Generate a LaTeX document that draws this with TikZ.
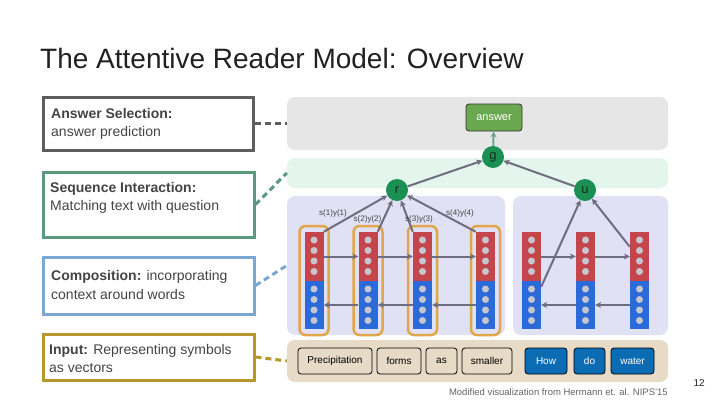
\documentclass[tikz,border=0pt]{standalone}
\usepackage{fontspec}
\setmainfont{Liberation Sans}
\usetikzlibrary{arrows.meta,calc}
\definecolor{txtgray}{HTML}{444444}
\definecolor{cgray}{HTML}{5E5E5E}
\definecolor{cgreen}{HTML}{5B9A7E}
\definecolor{cblue}{HTML}{7DA7D3}
\definecolor{cgold}{HTML}{B8962E}
\definecolor{pgray}{HTML}{E6E6E6}
\definecolor{pgreen}{HTML}{E3F5EC}
\definecolor{pblue}{HTML}{E1E1F5}
\definecolor{ptan}{HTML}{E7DAC6}
\definecolor{colred}{HTML}{C4464C}
\definecolor{colblue}{HTML}{2B6AD8}
\definecolor{dotgray}{HTML}{C6C6CE}
\definecolor{corange}{HTML}{E2A64A}
\definecolor{arrgray}{HTML}{6E6E7E}
\definecolor{nodegreen}{HTML}{1A9052}
\definecolor{nodetext}{HTML}{14301E}
\definecolor{ansgreen}{HTML}{6AA84F}
\definecolor{wordblue}{HTML}{0B6CB4}
\begin{document}
\begin{tikzpicture}[x=1pt,y=-1pt,
  lbox/.style={draw, line width=3pt, inner sep=0pt},
  panel/.style={rounded corners=8pt, inner sep=0pt},
  dashconn/.style={line width=3pt, dash pattern=on 6pt off 4pt},
  colr/.style={fill=colred, minimum width=19pt, minimum height=49pt, inner sep=0pt},
  colb/.style={fill=colblue, minimum width=19pt, minimum height=48pt, inner sep=0pt},
  obox/.style={draw=corange, line width=2.5pt, rounded corners=6pt, minimum width=29pt, minimum height=109pt, inner sep=0pt},
  dotn/.style={circle, fill=dotgray, minimum size=7pt, inner sep=0pt},
  harr/.style={draw=arrgray, line width=2pt, -{Stealth[length=6pt,width=6pt]}},
  circ/.style={circle, fill=nodegreen, minimum size=22pt, inner sep=0pt, text=nodetext, font=\fontsize{13}{13}\selectfont},
  word/.style={draw=black, line width=0.8pt, rounded corners=3pt, minimum height=26pt, inner sep=0pt, font=\fontsize{10}{10}\selectfont},
  ltxt/.style={anchor=base west, inner sep=0pt, text=txtgray, font=\fontsize{14}{14}\selectfont},
  slab/.style={inner sep=0pt, text=txtgray, font=\fontsize{8}{8}\selectfont}
]
\useasboundingbox (0,0) rectangle (720,405);
\fill[white] (0,0) rectangle (720,405);

% title
\node[anchor=base west, inner sep=0pt, text=black!87, font=\fontsize{28}{28}\selectfont] (title) at (40,68) {The Attentive Reader Model: Overview};

% left boxes
\node[lbox, draw=cgray, minimum width=210pt, minimum height=53pt] (b1) at (148,123.5) {};
\node[lbox, draw=cgreen, minimum width=211pt, minimum height=65pt] (b2) at (148.5,204.5) {};
\node[lbox, draw=cblue, minimum width=211pt, minimum height=57pt] (b3) at (148.5,285.5) {};
\node[lbox, draw=cgold, minimum width=211pt, minimum height=46pt] (b4) at (148.5,357) {};

\node[ltxt] (t1a) at (51,118) {\textbf{Answer Selection:}};
\node[ltxt] (t1b) at (51,136) {answer prediction};
\node[ltxt] (t2a) at (50,192) {\textbf{Sequence Interaction:}};
\node[ltxt] (t2b) at (50,210) {Matching text with question};
\node[ltxt] (t3a) at (51,280) {\textbf{Composition:} incorporating};
\node[ltxt] (t3b) at (51,299) {context around words};
\node[ltxt] (t4a) at (49,354) {\textbf{Input:} Representing symbols};
\node[ltxt] (t4b) at (49,372) {as vectors};

% panels
\node[panel, fill=pgray, minimum width=381pt, minimum height=53pt] (pg) at (477.5,123.5) {};
\node[panel, fill=pgreen, minimum width=381pt, minimum height=30pt] (pgr) at (477.5,173) {};
\node[panel, fill=pblue, minimum width=218pt, minimum height=139pt] (pbl) at (396,265.5) {};
\node[panel, fill=pblue, minimum width=155pt, minimum height=139pt] (pbr) at (590.5,265.5) {};
\node[panel, fill=ptan, minimum width=381pt, minimum height=42pt] (pt) at (477.5,361) {};

% dashed connectors
\draw[dashconn, draw=cgray] (b1.east) -- (pg.west);
\draw[dashconn, draw=cgreen] (b2.east) -- (pgr.west);
\draw[dashconn, draw=cblue] (b3.east) -- (pbl.west);
\draw[dashconn, draw=cgold] (b4.east) -- (pt.west);

% left columns
\foreach \i/\x in {1/314,2/368,3/422.5,4/485.5}{
  \node[obox] (L\i o) at (\x,280.5) {};
  \node[colr] (L\i r) at (\x,256.5) {};
  \node[colb] (L\i b) at (\x,305) {};
  \foreach \yy in {240,250.5,261,271.5,289,299.5,310,320.5}{
    \node[dotn] at (\x,\yy) {};
  }
}
% right columns
\foreach \i/\x in {1/531.5,2/585.5,3/639.5}{
  \node[colr] (R\i r) at (\x,256.5) {};
  \node[colb] (R\i b) at (\x,305) {};
  \foreach \yy in {240,250.5,261,271.5,289,299.5,310,320.5}{
    \node[dotn] at (\x,\yy) {};
  }
}

% horizontal arrows
\draw[harr] (L1r) -- (L2r);
\draw[harr] (L2r) -- (L3r);
\draw[harr] (L3r) -- (L4r);
\draw[harr] (L4b) -- (L3b);
\draw[harr] (L3b) -- (L2b);
\draw[harr] (L2b) -- (L1b);
\draw[harr] (R1r) -- (R2r);
\draw[harr] (R2r) -- (R3r);
\draw[harr] (R3b) -- (R2b);
\draw[harr] (R2b) -- (R1b);

% top nodes
\node[draw=black!80, line width=0.8pt, fill=ansgreen, rounded corners=3pt, minimum width=56pt, minimum height=27pt, inner sep=0pt, text=white, font=\fontsize{11}{11}\selectfont] (ans) at (494,117.5) {answer};
\node[circ] (g) at (493,157) {g};
\node[circ] (r) at (397,190) {r};
\node[circ] (u) at (585,190) {u};

\draw[line width=2pt, draw=cgreen!90, -{Stealth[length=6pt,width=6pt]}] (g) -- (ans);
\draw[harr] (r) -- (g);
\draw[harr] (u) -- (g);

\draw[harr] (L1r.north east) -- (r);
\draw[harr] (L2r.north east) -- (r);
\draw[harr] (L3r.north west) -- (r);
\draw[harr] (L4r.north west) -- (r);
\draw[harr] ($(R1b.north east)+(0,6)$) -- (u);
\draw[harr] ($(R3r.north west)+(0,15)$) -- (u);

\node[slab] (s1) at (333,213) {s(1)y(1)};
\node[slab] (s2) at (367.5,219.5) {s(2)y(2)};
\node[slab] (s3) at (419,219.5) {s(3)y(3)};
\node[slab] (s4) at (460,213) {s(4)y(4)};

% words
\node[word, minimum width=74pt] (w1) at (335,361) {Precipitation};
\node[word, minimum width=44pt] (w2) at (399,361) {forms};
\node[word, minimum width=31pt] (w3) at (441.5,361) {as};
\node[word, minimum width=50pt] (w4) at (487,361) {smaller};
\node[word, minimum width=42pt, fill=wordblue, text=white] (w5) at (546,361) {How};
\node[word, minimum width=31pt, fill=wordblue, text=white] (w6) at (589.5,361) {do};
\node[word, minimum width=43pt, fill=wordblue, text=white] (w7) at (632.5,361) {water};

% caption
\node[anchor=base east, inner sep=0pt, text=black!60, font=\fontsize{9.5}{9.5}\selectfont] (cap) at (668,395) {Modified visualization from Hermann et. al. NIPS'15};
\node[anchor=base east, inner sep=0pt, text=black!85, font=\fontsize{10}{10}\selectfont] (pnum) at (705,386) {12};
\end{tikzpicture}
\end{document}
